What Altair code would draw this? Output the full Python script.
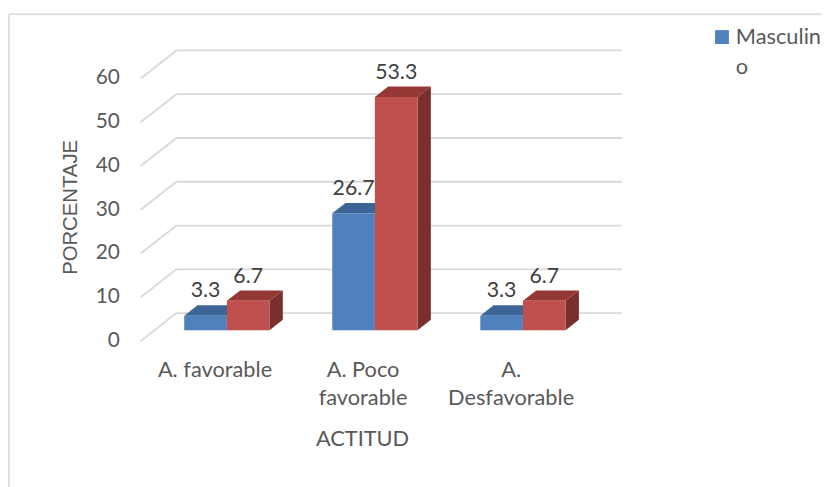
import altair as alt
import pandas as pd

# ---- data ----
categories = ["A. favorable", "A. Poco favorable", "A. Desfavorable"]
category_labels = ["A. favorable", "A. Poco\nfavorable", "A.\nDesfavorable"]
series = ["Masculino", "Femenino"]
masculino = [3.3, 26.7, 3.3]
femenino = [6.7, 53.3, 6.7]
y_ticks = [0, 10, 20, 30, 40, 50, 60]

# ---- pseudo-3D geometry (in scale units) ----
BAR_W = 0.288      # bar width in category units
DX = 0.09          # depth shift in x
DY = 2.38          # depth shift in y
BASE = 2.49        # bar plane baseline above the front plane
BACK_DY = 6.4      # back wall offset above the front plane
BACK_X = -0.341    # back wall left edge
X_MIN, X_MAX = -0.582, 2.669
Y_MAX = 72.85
LABEL_SHIFT = -0.08

FRONT_COL = {"Masculino": "#4F81BD", "Femenino": "#C0504D"}
TOP_COL = {"Masculino": "#3C6494", "Femenino": "#953735"}
SIDE_COL = {"Masculino": "#2F4F75", "Femenino": "#7A2F2D"}
TEXT = "#595959"
GRID = "#D9D9D9"
FONT = "Lato"

xs = alt.Scale(domain=[X_MIN, X_MAX], nice=False, zero=False)
ys = alt.Scale(domain=[0, Y_MAX], nice=False, zero=False)

values = {"Masculino": masculino, "Femenino": femenino}

X_NOAX = lambda f: alt.X(f, scale=xs, axis=None)
Y_NOAX = lambda f: alt.Y(f, scale=ys, axis=None)

layers = []

# back wall gridlines and floor/side diagonals
grid = pd.DataFrame({"t": y_ticks})
grid["tb"] = grid["t"] + BACK_DY
grid["xf"] = X_MIN
grid["xb"] = BACK_X
grid["xe"] = X_MAX

layers.append(
    alt.Chart(grid).mark_rule(color=GRID, strokeWidth=1.8).encode(
        x=X_NOAX("xb:Q"), x2="xe:Q", y=Y_NOAX("tb:Q")
    )
)
layers.append(
    alt.Chart(grid).mark_rule(color=GRID, strokeWidth=1.8).encode(
        x=X_NOAX("xf:Q"), x2="xb:Q", y=Y_NOAX("t:Q"), y2="tb:Q"
    )
)
# y tick labels (front plane)
layers.append(
    alt.Chart(grid).mark_text(
        font=FONT, fontSize=21, color=TEXT, align="right", baseline="middle"
    ).encode(x=alt.value(-21), y=Y_NOAX("t:Q"), text="t:N")
)

label_rows = []
for k, s in enumerate(series):
    for i, cat in enumerate(categories):
        v = values[s][i]
        x0 = i - BAR_W if k == 0 else i
        x1 = x0 + BAR_W
        vt = BASE + v
        top = pd.DataFrame({
            "px": [x0, x0 + DX, x1, x1 + DX],
            "lo": [vt, vt, vt, vt + DY],
            "hi": [vt, vt + DY, vt + DY, vt + DY],
        })
        side = pd.DataFrame({
            "px": [x1, x1 + DX],
            "lo": [BASE, BASE + DY],
            "hi": [vt, vt + DY],
        })
        front = pd.DataFrame({"x0": [x0], "x1": [x1], "y0": [BASE], "y1": [vt]})
        layers.append(
            alt.Chart(top).mark_area(color=TOP_COL[s], orient="vertical").encode(
                x=X_NOAX("px:Q"), y=alt.Y("lo:Q", scale=ys, axis=None, stack=False), y2="hi:Q"
            )
        )
        layers.append(
            alt.Chart(side).mark_area(color=SIDE_COL[s], orient="vertical").encode(
                x=X_NOAX("px:Q"), y=alt.Y("lo:Q", scale=ys, axis=None, stack=False), y2="hi:Q"
            )
        )
        layers.append(
            alt.Chart(front).mark_rect(color=FRONT_COL[s]).encode(
                x=X_NOAX("x0:Q"), x2="x1:Q", y=Y_NOAX("y0:Q"), y2="y1:Q"
            )
        )
        label_rows.append(dict(cx=(x0 + x1) / 2, ly=vt + DY, txt=f"{v:.1f}"))

labels = pd.DataFrame(label_rows)
layers.append(
    alt.Chart(labels).mark_text(
        font=FONT, fontSize=21.5, color="#404040", baseline="alphabetic", align="center", dy=-8
    ).encode(x=X_NOAX("cx:Q"), y=Y_NOAX("ly:Q"), text="txt:N")
)

# category labels
cat_df = pd.DataFrame({
    "lx": [i + LABEL_SHIFT for i in range(len(categories))],
    "label": category_labels,
})
layers.append(
    alt.Chart(cat_df).mark_text(
        font=FONT, fontSize=22, color=TEXT, baseline="alphabetic", align="center",
        lineBreak="\n", lineHeight=29,
    ).encode(x=X_NOAX("lx:Q"), y=alt.value(358), text="label:N")
)

one = pd.DataFrame({"a": [0]})

# axis titles
layers.append(
    alt.Chart(one).mark_text(
        font=FONT, fontSize=22, color=TEXT, baseline="alphabetic", align="center"
    ).encode(x=alt.value(224), y=alt.value(428), text=alt.value("ACTITUD"))
)
layers.append(
    alt.Chart(one).mark_text(
        font="Liberation Sans", fontSize=20.5, color=TEXT, baseline="middle",
        align="center", angle=270,
    ).encode(x=alt.value(-70), y=alt.value(187), text=alt.value("PORCENTAJE"))
)

# legend (wrapped label, as in the reference)
layers.append(
    alt.Chart(one).mark_square(size=196, color=FRONT_COL["Masculino"], opacity=1).encode(
        x=alt.value(587), y=alt.value(15)
    )
)
layers.append(
    alt.Chart(one).mark_text(
        font=FONT, fontSize=22, color=TEXT, baseline="alphabetic", align="left",
        lineBreak="\n", lineHeight=30,
    ).encode(x=alt.value(601), y=alt.value(22), text=alt.value("Masculin\no"))
)

# chart-area frame (left and top edges visible)
layers.append(
    alt.Chart(one).mark_rule(color=GRID, strokeWidth=1.5).encode(
        x=alt.value(-133), y=alt.value(-8), y2=alt.value(480)
    )
)
layers.append(
    alt.Chart(one).mark_rule(color=GRID, strokeWidth=1.5).encode(
        x=alt.value(-133), x2=alt.value(700), y=alt.value(-8)
    )
)

chart = alt.layer(*layers).properties(
    width=486,
    height=322,
    autosize=alt.AutoSizeParams(type="none"),
    padding={"left": 134, "top": 12, "right": 202, "bottom": 145},
    background="white",
).configure_view(stroke=None)

chart.save("out.html", embed_options={"renderer": "svg", "actions": False})
